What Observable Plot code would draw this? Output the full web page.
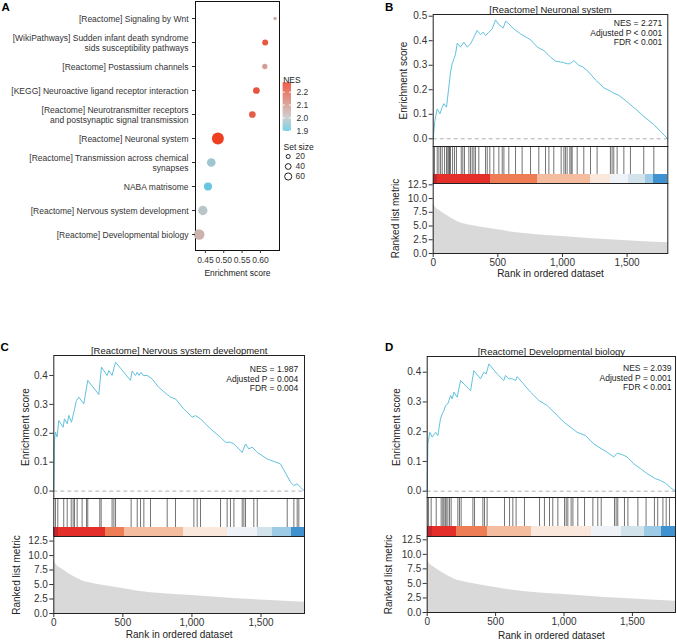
<!DOCTYPE html>
<html><head><meta charset="utf-8">
<script src="https://cdn.jsdelivr.net/npm/d3@7"></script>
<script src="https://cdn.jsdelivr.net/npm/@observablehq/plot@0.6"></script>
<style>
body{margin:0;background:#fff;}
#root{position:relative;width:677px;height:644px;overflow:hidden;font-family:"Liberation Sans",Arial,sans-serif;}
.lbl{position:absolute;font-weight:bold;font-size:11.5px;color:#000;line-height:1;}
</style></head><body><div id="root"></div>
<script>
// ---------- Panel A data ----------
const pathways = [
  "[Reactome] Signaling by Wnt",
  "[WikiPathways] Sudden infant death syndrome\nsids susceptibility pathways",
  "[Reactome] Postassium channels",
  "[KEGG] Neuroactive ligand receptor interaction",
  "[Reactome] Neurotransmitter receptors\nand postsynaptic signal transmission",
  "[Reactome] Neuronal system",
  "[Reactome] Transmission across chemical\nsynapses",
  "NABA matrisome",
  "[Reactome] Nervous system development",
  "[Reactome] Developmental biology"
];
const enrichScore = [0.640, 0.613, 0.612, 0.589, 0.578, 0.484, 0.466, 0.457, 0.443, 0.433];
const nesValues   = [2.06, 2.22, 2.08, 2.23, 2.21, 2.271, 1.96, 1.90, 1.987, 2.039];
const setSizes    = [13, 42, 33, 53, 53, 170, 89, 76, 102, 135];
const esTicksA = [0.45, 0.50, 0.55, 0.60];
const nesLegendTicks = [1.9, 2.0, 2.1, 2.2];
const sizeLegend = [20, 40, 60];

// ---------- GSEA shared ----------
const rankedListLength = 1815;
const rankTicks = [0, 500, 1000, 1500];
const metricTicks = [0, 2.5, 5, 7.5, 10, 12.5];
const metricRank  = [0, 10, 25, 50, 100, 150, 200, 300, 400, 500, 600, 800, 1000, 1200, 1400, 1600, 1815];
const metricValue = [9.2, 8.7, 8.2, 7.8, 7.0, 6.3, 5.7, 5.1, 4.7, 4.3, 3.9, 3.4, 3.1, 2.75, 2.45, 2.2, 1.95];
const stripColors = ["#c4252d","#e42e29","#ee7c55","#f5bd9f","#fbe8dc","#eff2f6","#d3e3ec","#9dcbe6","#3f92cf"];

// Panel B
const rankB = [0,13,31,52,70,83,103,121,134,147,160,173,186,211,237,263,289,315,340,366,387,405,431,456,482,508,542,560,585,624,676,727,753,805,856,908,946,985,1006,1037,1057,1088,1127,1153,1204,1256,1320,1372,1398,1437,1488,1565,1630,1707,1815];
const esB = [0,0.075,0.122,0.102,0.129,0.143,0.129,0.211,0.272,0.306,0.326,0.346,0.39,0.374,0.394,0.374,0.387,0.414,0.442,0.425,0.435,0.421,0.435,0.448,0.485,0.466,0.452,0.48,0.469,0.448,0.428,0.412,0.404,0.374,0.36,0.333,0.317,0.313,0.311,0.306,0.306,0.319,0.299,0.295,0.272,0.24,0.208,0.194,0.186,0.177,0.156,0.122,0.091,0.058,0];
const hitsB = [10,31,44,57,70,88,103,113,121,126,134,150,165,180,217,229,242,276,289,302,315,327,353,405,418,438,469,508,534,547,585,637,688,753,817,869,895,933,990,1011,1023,1036,1057,1067,1075,1114,1165,1217,1268,1371,1384,1397,1423,1475,1526,1629,1707];
const stripEdgesB = [0,31,443,804,1217,1371,1513,1642,1707,1815];

// Panel C
const rankC = [0,5,12,24,36,68,77,97,109,128,145,164,181,217,246,326,345,386,398,422,447,555,567,591,604,616,632,647,676,712,760,821,845,881,941,1002,1026,1062,1135,1207,1243,1279,1304,1364,1388,1412,1436,1473,1545,1641,1714,1738,1762,1786,1815];
const esC = [0,0.175,0.204,0.187,0.244,0.221,0.25,0.233,0.262,0.238,0.273,0.313,0.325,0.302,0.383,0.334,0.429,0.4,0.417,0.4,0.446,0.383,0.415,0.4,0.411,0.4,0.411,0.4,0.4,0.388,0.359,0.334,0.325,0.319,0.284,0.256,0.261,0.25,0.215,0.186,0.169,0.169,0.163,0.134,0.163,0.146,0.152,0.134,0.111,0.094,0.031,0.019,0.025,0.013,0];
const hitsC = [12,29,72,97,126,140,150,169,205,237,246,333,343,422,435,447,560,604,628,652,700,821,881,1014,1038,1062,1207,1255,1279,1304,1364,1376,1388,1448,1473,1690,1738,1762,1774];
const stripEdgesC = [0,36,374,512,937,1255,1473,1581,1721,1815];

// Panel D
const rankD = [0,5,19,37,61,78,97,110,122,134,151,171,183,195,219,244,304,317,341,390,414,431,451,512,560,572,597,621,646,658,694,755,816,877,926,999,1048,1096,1157,1218,1255,1315,1364,1389,1425,1462,1510,1559,1608,1669,1705,1742,1778,1815];
const esD = [0,0.159,0.198,0.182,0.198,0.187,0.243,0.26,0.271,0.288,0.294,0.322,0.31,0.333,0.316,0.372,0.344,0.338,0.405,0.378,0.4,0.394,0.428,0.394,0.372,0.389,0.378,0.378,0.372,0.385,0.366,0.333,0.305,0.288,0.266,0.232,0.215,0.198,0.187,0.159,0.148,0.131,0.115,0.128,0.123,0.115,0.092,0.076,0.059,0.042,0.036,0.027,0.012,0];
const hitsD = [10,29,66,102,114,122,132,139,151,163,175,224,236,248,334,346,407,419,438,565,602,626,650,711,821,857,894,918,955,1004,1016,1028,1052,1065,1101,1150,1211,1247,1272,1369,1381,1393,1442,1467,1540,1600,1661,1685,1723,1747,1771];
const stripEdgesD = [0,41,212,443,760,1199,1418,1589,1710,1815];

const FONT = '"Liberation Sans", Arial, sans-serif';
const root = document.getElementById("root");
function baseStyle(left, top) {
  return {position: "absolute", left: left + "px", top: top + "px", overflow: "visible",
          background: "none", fontFamily: FONT, fontSize: "10px", color: "#333"};
}
function add(el) { root.appendChild(el); }
function letter(t, x, y) {
  const d = document.createElement("div"); d.className = "lbl"; d.textContent = t;
  d.style.left = x + "px"; d.style.top = y + "px"; root.appendChild(d);
}
const fmtRank = d3.format(",d");

// ---------- Panel A ----------
const nesColor = {type: "linear", domain: [1.895, 2.0, 2.271], range: ["#5fc6e1", "#c6c6c6", "#ee3f23"]};
const rScale = {domain: [0, 170], range: [0, 6]};
const idxA = d3.range(pathways.length);
add(Plot.plot({
  width: 300, height: 285, marginLeft: 195, marginRight: 21, marginTop: 1, marginBottom: 35,
  style: baseStyle(0, 0),
  x: {domain: [0.423, 0.652]},
  y: {type: "point", domain: pathways, padding: 0.56},
  r: rScale,
  color: nesColor,
  marks: [
    Plot.frame({stroke: "#111"}),
    Plot.dot(idxA, {x: i => enrichScore[i], y: i => pathways[i], r: i => setSizes[i], fill: i => nesValues[i]}),
    Plot.axisY({tickSize: 3, tickPadding: 4, fontSize: 8.5, lineHeight: 1.15, label: null, color: "#333"}),
    Plot.axisX({ticks: esTicksA, tickFormat: d => d.toFixed(2), tickSize: 3, tickPadding: 3, fontSize: 8.5, label: null, color: "#333"}),
    Plot.text(["Enrichment score"], {frameAnchor: "bottom", dy: 25, fontSize: 8.5, fill: "#222"})
  ]
}));

// NES colour bar
const gradSteps = d3.range(1.895, 2.271, 0.004);
add(Plot.plot({
  width: 40, height: 70, marginLeft: 2.7, marginRight: 29, marginTop: 12.5, marginBottom: 9,
  style: baseStyle(280, 70),
  x: {domain: [0, 1], axis: null},
  y: {domain: [1.895, 2.271], axis: null},
  color: nesColor,
  marks: [
    Plot.rect(gradSteps, {x1: 0, x2: 1, y1: d => d, y2: d => Math.min(2.271, d + 0.005), fill: d => d}),
    Plot.tickY(nesLegendTicks, {y: d => d, stroke: "white", insetRight: 6.3}),
    Plot.tickY(nesLegendTicks, {y: d => d, stroke: "white", insetLeft: 6.3}),
    Plot.axisY({anchor: "right", ticks: nesLegendTicks, tickFormat: d => d.toFixed(1), tickSize: 0, tickPadding: 5, fontSize: 8.5, label: null, color: "#333"}),
    Plot.text(["NES"], {frameAnchor: "top-left", dy: -6.5, textAnchor: "start", fontSize: 8.5, fill: "#222"})
  ]
}));

// Set size legend
add(Plot.plot({
  width: 40, height: 45, margin: 0,
  style: baseStyle(280, 138),
  x: {domain: [0, 1], axis: null},
  y: {type: "point", domain: sizeLegend.map(String), range: [17.5, 38.5], padding: 0, axis: null},
  r: rScale,
  marks: [
    Plot.dot(sizeLegend, {y: d => String(d), r: d => d, frameAnchor: "left", dx: 7.7, fill: "none", stroke: "#222", strokeWidth: 1}),
    Plot.text(sizeLegend, {y: d => String(d), text: d => String(d), frameAnchor: "left", dx: 15, textAnchor: "start", fontSize: 8.5, fill: "#333"}),
    Plot.text(["Set size"], {frameAnchor: "top-left", dx: 3, dy: 5.5, textAnchor: "start", fontSize: 8.5, fill: "#222"})
  ]
}));

// ---------- GSEA panels ----------
function gseaPanel(c) {
  const xs = {domain: [0, rankedListLength]};
  const idx = d3.range(c.ranks.length);
  add(Plot.plot({
    width: c.width, height: c.esH, marginLeft: c.mL, marginRight: c.mR, marginTop: c.esMT, marginBottom: 0,
    style: baseStyle(c.left, c.esTop),
    x: {...xs, axis: null}, y: {domain: c.esDomain, axis: null},
    marks: [
      Plot.ruleY([0], {stroke: "#b0b0b0", strokeDasharray: "4,3"}),
      Plot.line(idx, {x: i => c.ranks[i], y: i => c.es[i], stroke: "#62c2de", strokeWidth: 1}),
      Plot.axisY({ticks: c.esTicks, tickFormat: d => d.toFixed(1), tickSize: 4, tickPadding: 2, fontSize: 10, label: null, color: "#333"}),
      Plot.frame({stroke: "#222"}),
      Plot.text([c.title], {frameAnchor: "top", dy: -8, fontSize: 9.5, fill: "#222"}),
      Plot.text([c.stats], {frameAnchor: "top-right", dx: -c.statDx, dy: c.statDy, textAnchor: "end", lineAnchor: "middle", lineHeight: 1.13, fontSize: 8.5, fill: "#222"}),
      Plot.text(["Enrichment score"], {frameAnchor: "left", dx: c.esLabelDx, rotate: -90, textAnchor: "middle", fontSize: 10, fill: "#222"})
    ]
  }));
  const segs = c.edges.slice(0, -1).map((e, i) => ({x1: e, x2: c.edges[i + 1], color: stripColors[i]}));
  add(Plot.plot({
    width: c.width, height: c.rugH, marginLeft: c.mL, marginRight: c.mR, marginTop: 0, marginBottom: 0,
    style: baseStyle(c.left, c.esTop + c.esH),
    x: {...xs, axis: null}, y: {domain: [0, c.rugH], axis: null},
    color: {type: "identity"},
    marks: [
      Plot.rect(segs, {x1: "x1", x2: "x2", y1: 0, y2: c.stripPx, fill: "color", shapeRendering: "crispEdges"}),
      Plot.ruleX(c.hits, {x: d => d, y1: c.stripPx, y2: c.rugH, stroke: "#000", strokeOpacity: 0.55}),
      Plot.frame({stroke: "#222"})
    ]
  }));
  const midx = d3.range(metricRank.length);
  add(Plot.plot({
    width: c.width, height: c.metH, marginLeft: c.mL, marginRight: c.mR, marginTop: 0, marginBottom: c.metMB,
    style: baseStyle(c.left, c.esTop + c.esH + c.rugH),
    x: xs, y: {domain: c.metDomain},
    marks: [
      Plot.areaY(midx, {x: i => metricRank[i], y: i => metricValue[i], fill: "#d9d9d9", curve: "monotone-x"}),
      Plot.axisY({ticks: metricTicks, tickFormat: d => d.toFixed(1), tickSize: 4, tickPadding: 2, fontSize: 10, label: null, color: "#333"}),
      Plot.axisX({ticks: rankTicks, tickFormat: fmtRank, tickSize: 4, tickPadding: 1.5, fontSize: 10, label: null, color: "#333"}),
      Plot.frame({stroke: "#222"}),
      Plot.text(["Ranked list metric"], {frameAnchor: "left", dx: c.metLabelDx, rotate: -90, textAnchor: "middle", fontSize: 10, fill: "#222"}),
      Plot.text(["Rank in ordered dataset"], {frameAnchor: "bottom", dy: c.xTitleDy, fontSize: 10, fill: "#222"})
    ]
  }));
}

gseaPanel({
  left: 340, width: 337, mL: 92.7, mR: 9.7,
  esTop: 0, esH: 146, esMT: 14, esDomain: [-0.0314, 0.507], esTicks: [0, 0.1, 0.2, 0.3, 0.4, 0.5],
  rugH: 37, stripPx: 9, metH: 100, metMB: 30, metDomain: [0, 12.74],
  ranks: rankB, es: esB, hits: hitsB, edges: stripEdgesB,
  title: "[Reactome] Neuronal system", stats: "NES = 2.271\nAdjusted P < 0.001\nFDR < 0.001",
  statDx: 5.6, statDy: 18.3, esLabelDx: -29.7, metLabelDx: -37.7, xTitleDy: 23.7
});
gseaPanel({
  left: 0, width: 340, mL: 53.3, mR: 36,
  esTop: 300, esH: 198, esMT: 55, esDomain: [-0.0256, 0.469], esTicks: [0, 0.1, 0.2, 0.3, 0.4],
  rugH: 38, stripPx: 9, metH: 110, metMB: 33, metDomain: [0, 13.29],
  ranks: rankC, es: esC, hits: hitsC, edges: stripEdgesC,
  title: "[Reactome] Nervous system development", stats: "NES = 1.987\nAdjusted P = 0.004\nFDR = 0.004",
  statDx: 6.3, statDy: 23, esLabelDx: -28.3, metLabelDx: -37.3, xTitleDy: 24.7
});
gseaPanel({
  left: 340, width: 337, mL: 86.7, mR: 2,
  esTop: 300, esH: 197, esMT: 56, esDomain: [-0.0212, 0.4528], esTicks: [0, 0.1, 0.2, 0.3, 0.4],
  rugH: 39, stripPx: 10, metH: 110, metMB: 34, metDomain: [0, 13.07],
  ranks: rankD, es: esD, hits: hitsD, edges: stripEdgesD,
  title: "[Reactome] Developmental biology", stats: "NES = 2.039\nAdjusted P = 0.001\nFDR < 0.001",
  statDx: 4, statDy: 21.3, esLabelDx: -30, metLabelDx: -38.4, xTitleDy: 26
});

letter("A", 1.5, 2);
letter("B", 385, 1.5);
letter("C", 0.5, 341.5);
letter("D", 385, 341.5);
</script>
</body></html>
